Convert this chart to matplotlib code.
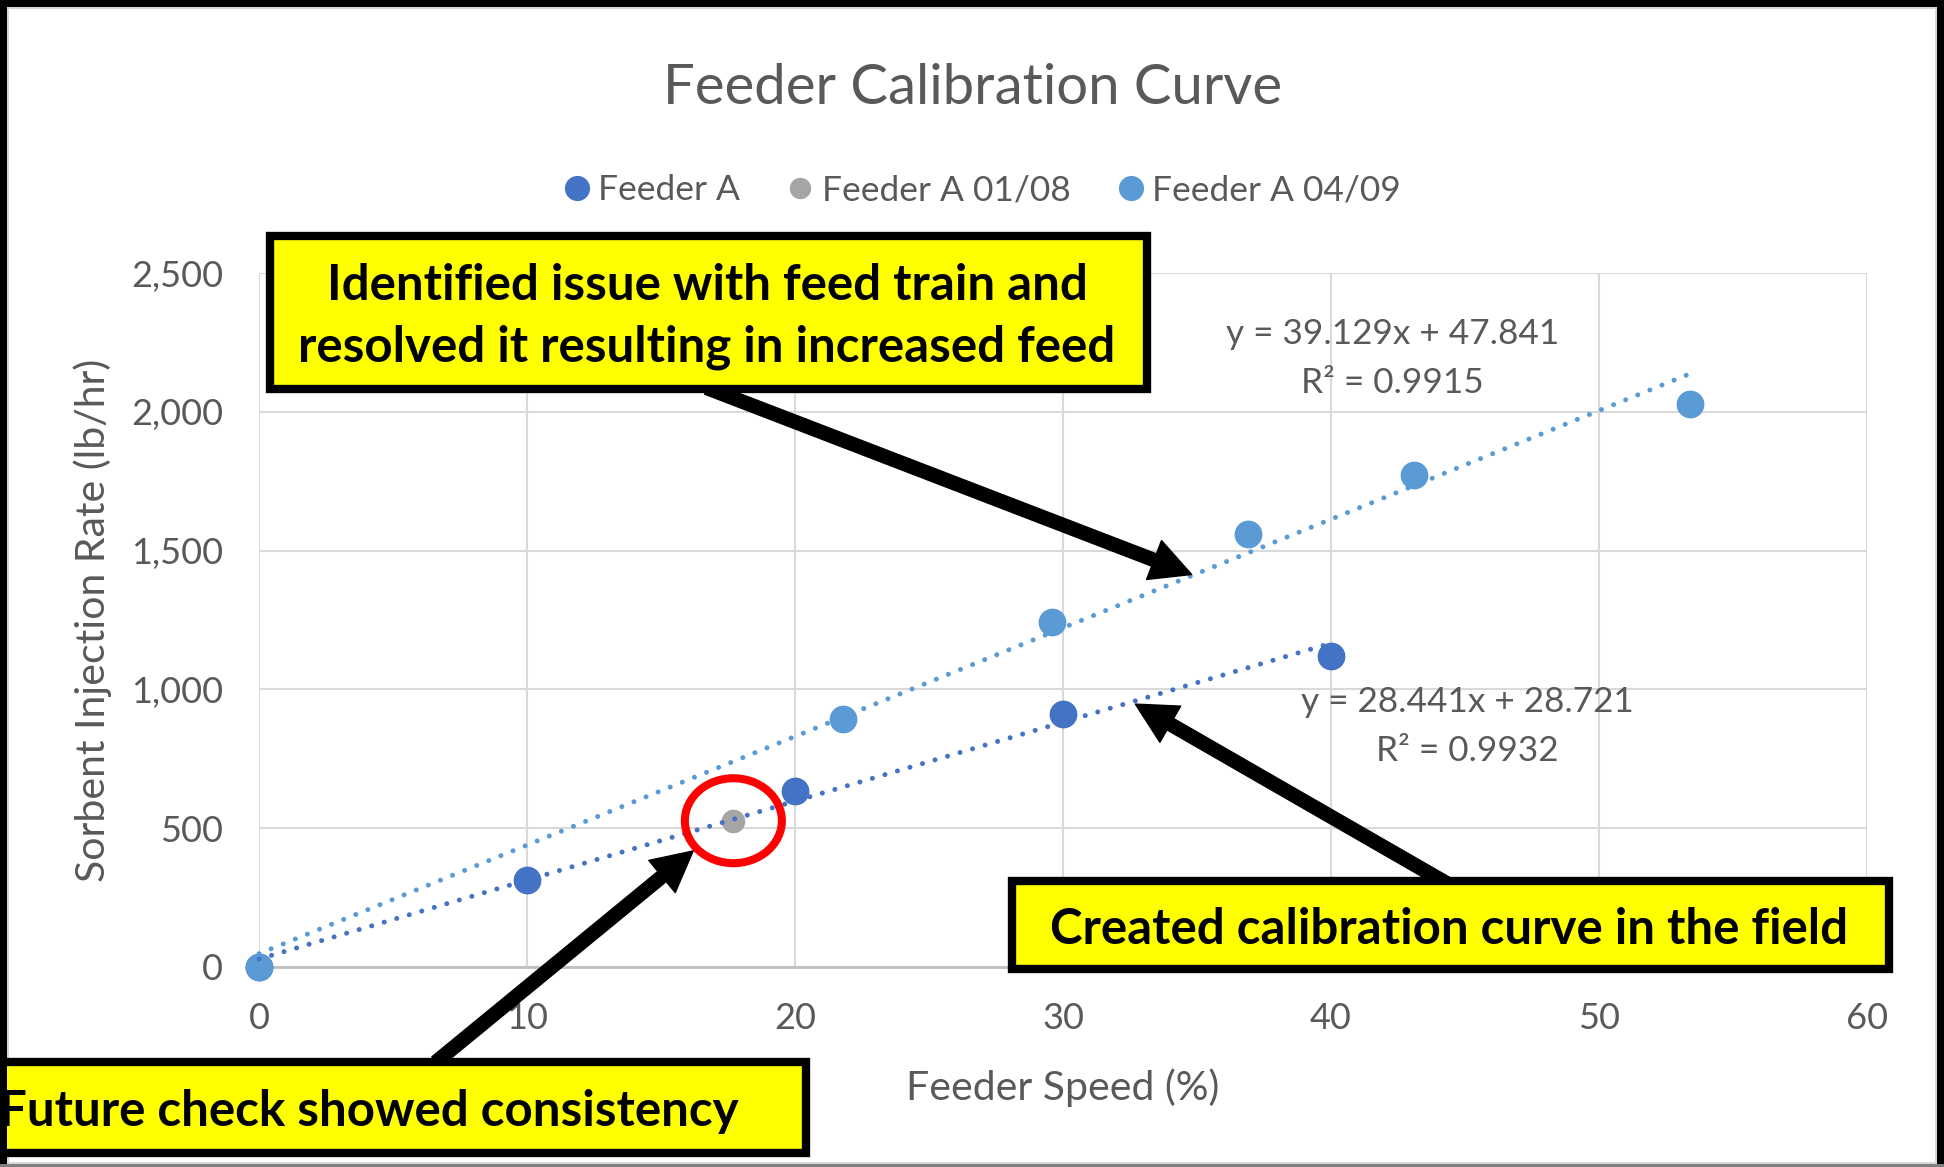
import numpy as np
import matplotlib.pyplot as plt
from matplotlib.patches import Rectangle, Ellipse
from matplotlib.ticker import FuncFormatter

plt.rcParams['font.family'] = ['Lato', 'DejaVu Sans']

W, H = 1944, 1167

# data
feeder_a_speed = [0, 10, 20, 30, 40]
feeder_a_rate = [0, 312, 634, 911, 1120]
check_speed = [17.7]
check_rate = [527]
new_speed = [0, 21.8, 29.6, 36.9, 43.1, 53.4]
new_rate = [0, 893, 1241, 1558, 1772, 2027]

# trendline coefficients as printed on the chart
fit_a = (28.441, 28.721, 0.9932)
fit_new = (39.129, 47.841, 0.9915)

x_ticks = [0, 10, 20, 30, 40, 50, 60]
y_ticks = [0, 500, 1000, 1500, 2000, 2500]

c_a = '#4472C4'
c_check = '#A5A5A5'
c_new = '#5B9BD5'
grey_txt = '#595959'


def fx(x):
    return x / W


def fy(y):
    return 1 - y / H


fig = plt.figure(figsize=(W / 100, H / 100), dpi=100)
ax = fig.add_axes([fx(259), fy(967), (1867 - 259) / W, (967 - 273) / H])

ax.plot(feeder_a_speed, feeder_a_rate, 'o', color=c_a, ms=19, label='Feeder A', zorder=3, clip_on=False)
ax.plot(check_speed, check_rate, 'o', color=c_check, ms=16, label='Feeder A 01/08', zorder=3, clip_on=False)
ax.plot(new_speed, new_rate, 'o', color=c_new, ms=19, label='Feeder A 04/09', zorder=3, clip_on=False)

# dotted linear trendlines
for xs, fit, col in [(feeder_a_speed, fit_a, c_a), (new_speed, fit_new, c_new)]:
    xx = np.array([min(xs), max(xs)])
    ln, = ax.plot(xx, fit[0] * xx + fit[1], color=col, lw=3.6,
                  linestyle=(0, (0.01, 2.6)), zorder=4, clip_on=False)
    ln.set_dash_capstyle('round')

ax.text(42.3, 2192, 'y = %.3fx + %.3f\nR² = %.4f' % fit_new, ha='center', va='center',
        fontsize=25.3, color=grey_txt, linespacing=1.65, zorder=5)
ax.text(45.1, 866, 'y = %.3fx + %.3f\nR² = %.4f' % fit_a, ha='center', va='center',
        fontsize=25.3, color=grey_txt, linespacing=1.65, zorder=5)

ax.set_xlim(0, 60)
ax.set_ylim(0, 2500)
ax.set_xticks(x_ticks)
ax.set_yticks(y_ticks)
ax.yaxis.set_major_formatter(FuncFormatter(lambda v, p: f'{int(v):,}'))
ax.tick_params(length=0, labelsize=26, labelcolor=grey_txt)
ax.tick_params(axis='y', pad=26)
ax.tick_params(axis='x', pad=25)
ax.grid(True, color='#D9D9D9', lw=1.5)
ax.set_axisbelow(True)
for s in ['top', 'right', 'left']:
    ax.spines[s].set_visible(False)
ax.spines['bottom'].set_color('#BFBFBF')
ax.spines['bottom'].set_linewidth(2)

ax.set_xlabel('Feeder Speed (%)', fontsize=29.5, color=grey_txt)
ax.xaxis.set_label_coords(0.5, (967 - 1088) / 694)
ax.xaxis.label.set_va('center')
ax.set_ylabel('Sorbent Injection Rate (lb/hr)', fontsize=29.5, color=grey_txt)
ax.yaxis.set_label_coords((93 - 259) / 1608, 0.5)
ax.yaxis.label.set_va('center')

fig.text(fx(973), fy(88), 'Feeder Calibration Curve', ha='center', va='center',
         fontsize=40.5, color=grey_txt)

ax.legend(loc='center', bbox_to_anchor=(fx(980), fy(190)), bbox_transform=fig.transFigure,
          ncol=3, frameon=False, fontsize=25.5, labelcolor=grey_txt, markerscale=0.9,
          handletextpad=0.1, columnspacing=1.2, handlelength=1.0)

# red circle around the check point
ax.add_patch(Ellipse((check_speed[0], check_rate[0]), 3.62, 306, fill=False,
                     ec='#FF0000', lw=5.8, zorder=6))

# call-out arrows
arrow_style = 'simple,head_length=2.9,head_width=3.0,tail_width=0.95'
arrows = [((707, 388), (34.8, 1414)),
          ((1448, 884), (32.7, 947)),
          ((436, 1062), (16.2, 418))]
for (sx, sy), tip in arrows:
    ax.annotate('', xy=tip, xycoords='data', xytext=(sx, H - sy), textcoords='figure pixels',
                arrowprops=dict(arrowstyle=arrow_style, mutation_scale=10, fc='black',
                                ec='black', shrinkA=0, shrinkB=0),
                zorder=7, annotation_clip=False)

# yellow boxes
boxes = [((270, 236, 1147, 389), 'Identified issue with feed train and\nresolved it resulting in increased feed', 707),
         ((1012, 881, 1889, 969), 'Created calibration curve in the field', 1449),
         ((-30, 1062, 806, 1153), 'Future check showed consistency', 369)]
for (x0, y0, x1, y1), txt, cx in boxes:
    fig.patches.append(Rectangle((fx(x0), fy(y1)), (x1 - x0) / W, (y1 - y0) / H,
                                 transform=fig.transFigure, fc='#FFFF00', ec='black',
                                 lw=6, zorder=8))
    fig.text(fx(cx), fy((y0 + y1) / 2 + 4), txt, ha='center', va='center', fontsize=35.5,
             fontweight='bold', color='black', linespacing=1.42, zorder=9)

# outer frame
fig.patches.append(Rectangle((0, fy(7)), 1, 7 / H, transform=fig.transFigure, fc='black', zorder=10))
fig.patches.append(Rectangle((0, 0), 7 / W, 1, transform=fig.transFigure, fc='black', zorder=10))
fig.patches.append(Rectangle((fx(1937), 0), 7 / W, 1, transform=fig.transFigure, fc='black', zorder=10))
fig.patches.append(Rectangle((fx(8), fy(1163)), (1936 - 8) / W, (1163 - 8) / H,
                             transform=fig.transFigure, fill=False, ec='#D9D9D9', lw=1.5, zorder=7))
fig.patches.append(Rectangle((0, 0), 1, 3 / H, transform=fig.transFigure, fc='#7F7F7F', zorder=10))

fig.savefig('out.png', dpi=100)
